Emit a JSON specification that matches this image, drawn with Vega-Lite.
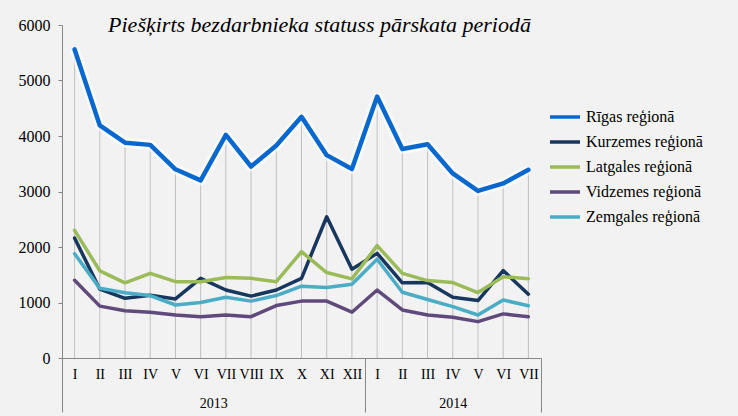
{
  "$schema": "https://vega.github.io/schema/vega-lite/v6.json",
  "width": 479,
  "height": 333,
  "autosize": {"type": "none"},
  "padding": {"left": 62, "top": 25, "right": 197, "bottom": 58},
  "background": "#f2f2f2",
  "config": {"view": {"stroke": null}, "font": "Liberation Serif"},
  "title": {
    "text": "Piešķirts bezdarbnieka statuss pārskata periodā",
    "font": "Liberation Serif",
    "fontStyle": "italic",
    "fontWeight": "normal",
    "fontSize": 22,
    "color": "#000000",
    "anchor": "middle",
    "dx": 18,
    "dy": 31,
    "baseline": "alphabetic",
    "offset": -6
  },
  "data": {
    "values": [
      {"period": "2013 I", "Rīgas reģionā": 5560, "Kurzemes reģionā": 2160, "Latgales reģionā": 2300, "Vidzemes reģionā": 1400, "Zemgales reģionā": 1880},
      {"period": "2013 II", "Rīgas reģionā": 4190, "Kurzemes reģionā": 1240, "Latgales reģionā": 1570, "Vidzemes reģionā": 935, "Zemgales reģionā": 1255},
      {"period": "2013 III", "Rīgas reģionā": 3880, "Kurzemes reģionā": 1075, "Latgales reģionā": 1355, "Vidzemes reģionā": 850, "Zemgales reģionā": 1175},
      {"period": "2013 IV", "Rīgas reģionā": 3840, "Kurzemes reģionā": 1130, "Latgales reģionā": 1525, "Vidzemes reģionā": 825, "Zemgales reģionā": 1125},
      {"period": "2013 V", "Rīgas reģionā": 3400, "Kurzemes reģionā": 1065, "Latgales reģionā": 1375, "Vidzemes reģionā": 775, "Zemgales reģionā": 955},
      {"period": "2013 VI", "Rīgas reģionā": 3200, "Kurzemes reģionā": 1435, "Latgales reģionā": 1375, "Vidzemes reģionā": 745, "Zemgales reģionā": 1000},
      {"period": "2013 VII", "Rīgas reģionā": 4020, "Kurzemes reģionā": 1225, "Latgales reģionā": 1450, "Vidzemes reģionā": 775, "Zemgales reģionā": 1095},
      {"period": "2013 VIII", "Rīgas reģionā": 3450, "Kurzemes reģionā": 1115, "Latgales reģionā": 1435, "Vidzemes reģionā": 745, "Zemgales reģionā": 1025},
      {"period": "2013 IX", "Rīgas reģionā": 3830, "Kurzemes reģionā": 1225, "Latgales reģionā": 1375, "Vidzemes reģionā": 945, "Zemgales reģionā": 1125},
      {"period": "2013 X", "Rīgas reģionā": 4345, "Kurzemes reģionā": 1435, "Latgales reģionā": 1915, "Vidzemes reģionā": 1025, "Zemgales reģionā": 1295},
      {"period": "2013 XI", "Rīgas reģionā": 3655, "Kurzemes reģionā": 2545, "Latgales reģionā": 1540, "Vidzemes reģionā": 1025, "Zemgales reģionā": 1270},
      {"period": "2013 XII", "Rīgas reģionā": 3405, "Kurzemes reģionā": 1600, "Latgales reģionā": 1425, "Vidzemes reģionā": 825, "Zemgales reģionā": 1330},
      {"period": "2014 I", "Rīgas reģionā": 4710, "Kurzemes reģionā": 1885, "Latgales reģionā": 2025, "Vidzemes reģionā": 1225, "Zemgales reģionā": 1780},
      {"period": "2014 II", "Rīgas reģionā": 3765, "Kurzemes reģionā": 1355, "Latgales reģionā": 1525, "Vidzemes reģionā": 865, "Zemgales reģionā": 1185},
      {"period": "2014 III", "Rīgas reģionā": 3850, "Kurzemes reģionā": 1360, "Latgales reģionā": 1395, "Vidzemes reģionā": 775, "Zemgales reģionā": 1055},
      {"period": "2014 IV", "Rīgas reģionā": 3325, "Kurzemes reģionā": 1095, "Latgales reģionā": 1360, "Vidzemes reģionā": 735, "Zemgales reģionā": 925},
      {"period": "2014 V", "Rīgas reģionā": 3010, "Kurzemes reģionā": 1035, "Latgales reģionā": 1180, "Vidzemes reģionā": 655, "Zemgales reģionā": 775},
      {"period": "2014 VI", "Rīgas reģionā": 3145, "Kurzemes reģionā": 1575, "Latgales reģionā": 1465, "Vidzemes reģionā": 795, "Zemgales reģionā": 1045},
      {"period": "2014 VII", "Rīgas reģionā": 3390, "Kurzemes reģionā": 1150, "Latgales reģionā": 1430, "Vidzemes reģionā": 745, "Zemgales reģionā": 940}
    ]
  },
  "layer": [
    {
      "transform": [
        {"fold": ["Rīgas reģionā", "Kurzemes reģionā", "Latgales reģionā", "Vidzemes reģionā", "Zemgales reģionā"], "as": ["region", "value"]}
      ],
      "layer": [
        {
          "transform": [{"filter": "datum.region === 'Rīgas reģionā'"}],
          "mark": {"type": "rule", "color": "#bfbfbf", "strokeWidth": 1},
          "encoding": {
            "x": {
              "field": "period",
              "type": "nominal",
              "scale": {
                "type": "point",
                "padding": 0.5,
                "domain": ["2013 I", "2013 II", "2013 III", "2013 IV", "2013 V", "2013 VI", "2013 VII", "2013 VIII", "2013 IX", "2013 X", "2013 XI", "2013 XII", "2014 I", "2014 II", "2014 III", "2014 IV", "2014 V", "2014 VI", "2014 VII"]
              },
              "axis": {
                "labelExpr": "split(datum.label, ' ')[1]",
                "labelAngle": 0,
                "ticks": false,
                "grid": false,
                "domainColor": "#868686",
                "labelFont": "Liberation Serif",
                "labelFontSize": 14,
                "labelColor": "#000000",
                "labelPadding": 9,
                "title": null
              }
            },
            "y": {
              "field": "value",
              "type": "quantitative",
              "scale": {"domain": [0, 6000], "nice": false},
              "axis": {
                "values": [0, 1000, 2000, 3000, 4000, 5000, 6000],
                "format": "d",
                "grid": false,
                "domainColor": "#868686",
                "tickColor": "#868686",
                "tickSize": 4,
                "labelFont": "Liberation Serif",
                "labelFontSize": 16,
                "labelColor": "#000000",
                "labelPadding": 8,
                "title": null
              }
            },
            "y2": {"datum": 0}
          }
        },
        {
          "transform": [{"filter": "datum.region === 'Rīgas reģionā'"}],
          "mark": {"type": "line", "color": "#ffffff", "strokeWidth": 10, "opacity": 0.6, "strokeJoin": "round"},
          "encoding": {
            "x": {"field": "period", "type": "nominal"},
            "y": {"field": "value", "type": "quantitative"}
          }
        },
        {
          "transform": [{"filter": "datum.region !== 'Rīgas reģionā'"}],
          "mark": {"type": "line", "strokeWidth": 3.5, "strokeJoin": "round", "strokeCap": "round"},
          "encoding": {
            "x": {"field": "period", "type": "nominal"},
            "y": {"field": "value", "type": "quantitative"},
            "color": {
              "field": "region",
              "type": "nominal",
              "scale": {
                "domain": ["Rīgas reģionā", "Kurzemes reģionā", "Latgales reģionā", "Vidzemes reģionā", "Zemgales reģionā"],
                "range": ["#0868cf", "#17375e", "#9bbb59", "#604a7b", "#4bacc6"]
              },
              "legend": {
                "orient": "none",
                "legendX": 486,
                "legendY": 75,
                "title": null,
                "symbolType": "stroke",
                "symbolSize": 900,
                "symbolStrokeWidth": 3.5,
                "labelFont": "Liberation Serif",
                "labelFontSize": 16,
                "labelColor": "#000000",
                "labelOffset": 4,
                "rowPadding": 0,
                "padding": 0
              }
            }
          }
        },
        {
          "transform": [{"filter": "datum.region === 'Rīgas reģionā'"}],
          "mark": {"type": "line", "strokeWidth": 4.5, "strokeJoin": "round", "strokeCap": "round"},
          "encoding": {
            "x": {"field": "period", "type": "nominal"},
            "y": {"field": "value", "type": "quantitative"},
            "color": {"field": "region", "type": "nominal"}
          }
        }
      ]
    },
    {
      "data": {"values": [{}]},
      "mark": {"type": "point", "opacity": 0},
      "encoding": {
        "x": {
          "datum": 0,
          "type": "quantitative",
          "scale": {"domain": [0, 19], "nice": false, "zero": false},
          "axis": {
            "orient": "bottom",
            "values": [0, 6, 12, 15.5, 19],
            "labelExpr": "datum.value == 6 ? '2013' : datum.value == 15.5 ? '2014' : ''",
            "tickSize": 54,
            "tickColor": "#868686",
            "tickOpacity": {"condition": {"test": "datum.value == 6 || datum.value == 15.5", "value": 0}, "value": 1},
            "domain": false,
            "grid": false,
            "labelPadding": -16,
            "labelFont": "Liberation Serif",
            "labelFontSize": 14,
            "labelColor": "#000000",
            "labelFlush": false,
            "labelOverlap": false,
            "title": null
          }
        }
      }
    }
  ],
  "resolve": {"scale": {"x": "independent"}, "axis": {"x": "independent"}}
}
